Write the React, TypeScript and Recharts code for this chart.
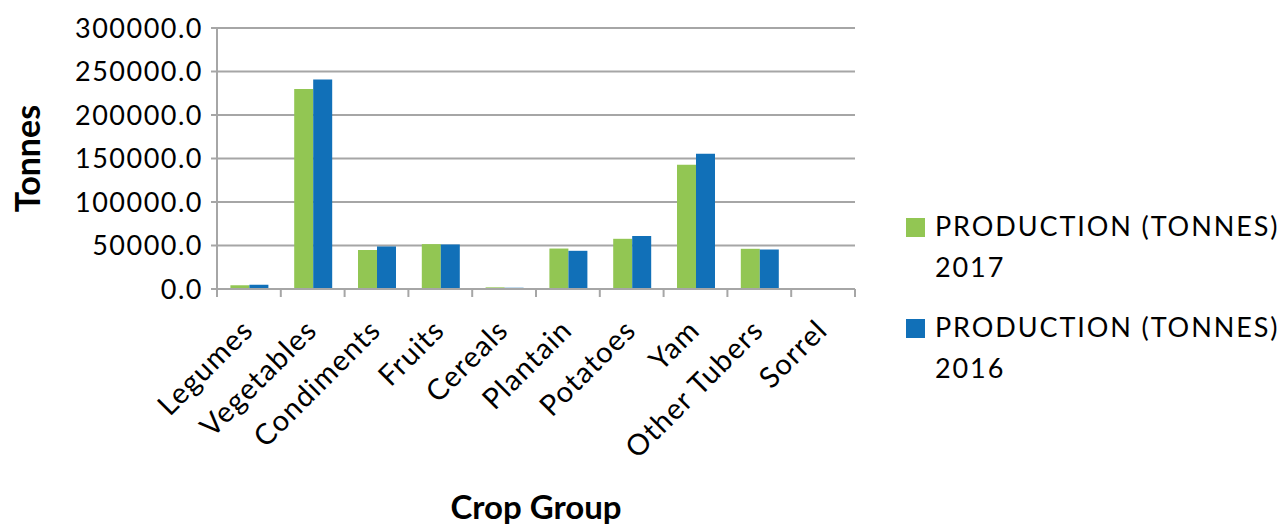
import { BarChart, Bar, XAxis, YAxis, CartesianGrid } from 'recharts';

const categories = [
  'Legumes',
  'Vegetables',
  'Condiments',
  'Fruits',
  'Cereals',
  'Plantain',
  'Potatoes',
  'Yam',
  'Other Tubers',
  'Sorrel',
];
const production2017 = [4300, 230000, 44800, 51600, 1900, 46500, 57700, 142700, 46200, 200];
const production2016 = [5000, 240800, 48900, 51200, 1500, 43900, 60800, 155400, 45400, 300];
const yTicks = [0, 50000, 100000, 150000, 200000, 250000, 300000];

const seriesNames = ['PRODUCTION (TONNES) 2017', 'PRODUCTION (TONNES) 2016'];
const GREEN = '#92c653';
const BLUE = '#1170b8';
const AXIS = '#a6a6a6';
const FONT = 'Lato, "Open Sans", sans-serif';

const data = categories.map((name, i) => ({
  name,
  p2017: production2017[i],
  p2016: production2016[i],
}));

const PLOT_LEFT = 217;
const PLOT_RIGHT = 855;
const BAND = (PLOT_RIGHT - PLOT_LEFT) / categories.length;

function CategoryTick(props: any) {
  const { x, y, payload, index } = props;
  const last = index === categories.length - 1;
  return (
    <g>
      <line x1={x - BAND / 2} y1={y} x2={x - BAND / 2} y2={y + 8} stroke={AXIS} strokeWidth={2} />
      {last && <line x1={x + BAND / 2} y1={y} x2={x + BAND / 2} y2={y + 8} stroke={AXIS} strokeWidth={2} />}
      <text
        x={0}
        y={0}
        transform={`translate(${x + 6},${y + 43}) rotate(-45)`}
        textAnchor="end"
        fontFamily={FONT}
        fontSize={29}
        letterSpacing={1.2}
        fill="#000"
      >
        {payload.value}
      </text>
    </g>
  );
}

function LegendBox() {
  return (
    <div
      style={{
        position: 'absolute',
        left: 906,
        top: 205,
        fontFamily: FONT,
        fontSize: 27,
        color: '#000',
        lineHeight: '41px',
        letterSpacing: 1.9,
        whiteSpace: 'nowrap',
      }}
    >
      {seriesNames.map((s, i) => {
        const cut = s.lastIndexOf(' ');
        return (
          <div key={s} style={{ display: 'flex', alignItems: 'flex-start', marginBottom: i === 0 ? 19 : 0 }}>
            <div
              style={{
                width: 19,
                height: 19,
                background: i === 0 ? GREEN : BLUE,
                marginTop: 13,
                marginRight: 10,
              }}
            />
            <div>
              <div>{s.slice(0, cut)}</div>
              <div>{s.slice(cut + 1)}</div>
            </div>
          </div>
        );
      })}
    </div>
  );
}

export default function App() {
  return (
    <div style={{ position: 'absolute', left: 0, top: 0, width: 1281, height: 525, background: '#fff' }}>
      <BarChart
        width={1281}
        height={525}
        data={data}
        margin={{ top: 28, right: 1281 - PLOT_RIGHT, bottom: 0, left: 0 }}
        barCategoryGap="21%"
        barGap={0}
      >
        <CartesianGrid vertical={false} stroke={AXIS} strokeWidth={2} />
        <XAxis
          dataKey="name"
          height={236}
          interval={0}
          tickSize={0}
          tickMargin={0}
          tickLine={false}
          axisLine={{ stroke: AXIS, strokeWidth: 2 }}
          tick={<CategoryTick />}
          label={{
            value: 'Crop Group',
            position: 'insideBottom',
            offset: 6,
            fontFamily: FONT,
            fontSize: 33,
            fontWeight: 700,
            fill: '#000',
          }}
        />
        <YAxis
          width={PLOT_LEFT}
          domain={[0, 300000]}
          ticks={yTicks}
          interval={0}
          tickSize={6}
          tickMargin={8}
          tickFormatter={(v: number) => v.toFixed(1)}
          axisLine={{ stroke: AXIS, strokeWidth: 2 }}
          tickLine={{ stroke: AXIS, strokeWidth: 2 }}
          tick={{ fontFamily: FONT, fontSize: 27, fill: '#000', letterSpacing: 1.5 }}
          label={{
            value: 'Tonnes',
            angle: -90,
            position: 'insideLeft',
            offset: 28,
            fontFamily: FONT,
            fontSize: 34,
            fontWeight: 700,
            fill: '#000',
            style: { textAnchor: 'middle' },
          }}
        />
        <Bar dataKey="p2017" name={seriesNames[0]} fill={GREEN} isAnimationActive={false} />
        <Bar dataKey="p2016" name={seriesNames[1]} fill={BLUE} isAnimationActive={false} />
      </BarChart>
      <LegendBox />
    </div>
  );
}
